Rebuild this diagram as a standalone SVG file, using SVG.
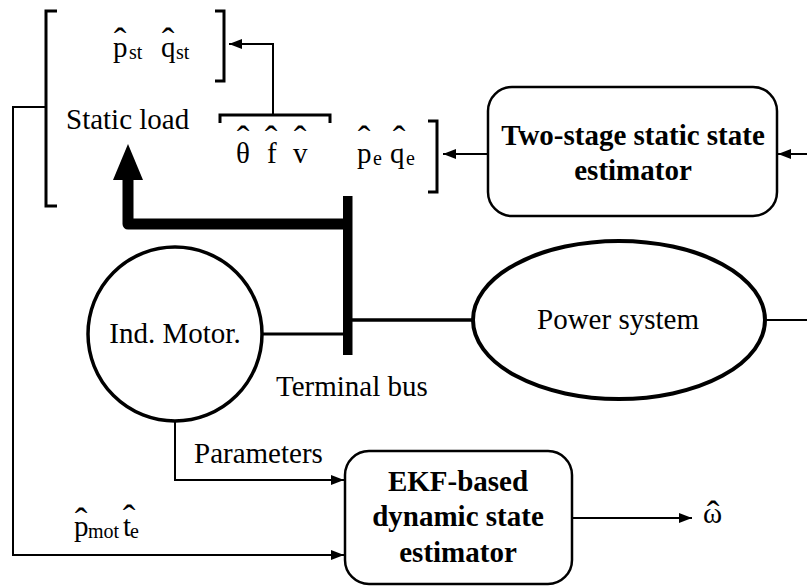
<svg xmlns="http://www.w3.org/2000/svg" width="807" height="586" viewBox="0 0 807 586">
<defs>
<marker id="ah" markerUnits="userSpaceOnUse" markerWidth="14" markerHeight="12" refX="13" refY="5" orient="auto">
<path d="M0,0 L13,5 L0,10 z" fill="#000"/>
</marker>
<style>
.t{font-family:"Liberation Serif","Times New Roman",serif;font-size:29px;fill:#000}
.b{font-family:"Liberation Serif","Times New Roman",serif;font-size:29px;font-weight:bold;fill:#000}
.s{font-size:20px}
.h{font-size:38px;text-anchor:middle}
.w{fill:none;stroke:#000;stroke-width:2}
.br{fill:none;stroke:#000;stroke-width:3}
.box{fill:#fff;stroke:#000;stroke-width:2.5}
</style>
</defs>
<rect width="807" height="586" fill="#fff"/>

<g id="connectors">
<path class="w" d="M46,107 H13 V555 H344" marker-end="url(#ah)"/>
<path class="w" d="M175,422 V480 H344" marker-end="url(#ah)"/>
<path class="w" d="M273,115 V44 H229" marker-end="url(#ah)"/>
<path class="w" d="M807,154 H778" marker-end="url(#ah)"/>
<path class="w" d="M488,154 H443" marker-end="url(#ah)"/>
<path class="w" d="M572,518 H692" marker-end="url(#ah)"/>
<path class="w" d="M765,320 H807"/>
<path fill="none" stroke="#000" stroke-width="3" d="M262,334 H344"/>
<path fill="none" stroke="#000" stroke-width="3.5" d="M352,320 H474"/>
<path fill="none" stroke="#000" stroke-width="11" stroke-linejoin="round" d="M347,224 H128 V176"/>
<path d="M113,180 L128,144 L143,180 z" fill="#000"/>
</g>

<g id="static-load">
<path class="br" d="M57,11 H46 V206 H57"/>
<path class="br" d="M215,11 H224 V81 H215"/>
<text class="t"><tspan x="113" y="57">p</tspan><tspan class="s" x="129" y="59">st</tspan><tspan class="h" x="120" y="54">ˆ</tspan><tspan x="161" y="57">q</tspan><tspan class="s" x="176" y="59">st</tspan><tspan class="h" x="168" y="54">ˆ</tspan></text>
<text class="t" x="66" y="129">Static load</text>
</g>

<g id="bus-measurements">
<path class="br" d="M220,123 V115 H330 V123"/>
<text class="t"><tspan x="236" y="163">θ</tspan><tspan class="h" x="243" y="152">ˆ</tspan><tspan x="267" y="163">f</tspan><tspan class="h" x="271" y="152">ˆ</tspan><tspan x="293" y="163">v</tspan><tspan class="h" x="300" y="152">ˆ</tspan></text>
</g>

<g id="estimated-power">
<path class="br" d="M428,121 H437 V192 H428"/>
<text class="t"><tspan x="357" y="163">p</tspan><tspan class="s" x="373" y="165">e</tspan><tspan class="h" x="364" y="152">ˆ</tspan><tspan x="390" y="163">q</tspan><tspan class="s" x="406" y="165">e</tspan><tspan class="h" x="399" y="152">ˆ</tspan></text>
</g>

<g id="two-stage-estimator">
<rect class="box" x="488" y="87" width="289" height="129" rx="24"/>
<text class="b" x="633" y="145" text-anchor="middle">Two-stage static state</text>
<text class="b" x="633" y="180" text-anchor="middle">estimator</text>
</g>

<g id="terminal-bus">
<rect x="343" y="196" width="9.5" height="159" fill="#000"/>
<text class="t" x="276" y="396">Terminal bus</text>
</g>

<g id="ind-motor">
<circle cx="175" cy="334" r="87" fill="#fff" stroke="#000" stroke-width="3.5"/>
<text class="t" x="175" y="343" text-anchor="middle">Ind. Motor.</text>
</g>

<g id="power-system">
<ellipse cx="619" cy="320" rx="146" ry="79" fill="#fff" stroke="#000" stroke-width="4"/>
<text class="t" x="618" y="329" text-anchor="middle">Power system</text>
</g>

<g id="parameters-label">
<text class="t" x="194" y="463">Parameters</text>
</g>

<g id="motor-measurements">
<text class="t"><tspan x="74" y="536">p</tspan><tspan class="s" x="88" y="538">mot</tspan><tspan class="h" x="81" y="534">ˆ</tspan><tspan x="123" y="536">t</tspan><tspan class="s" x="130" y="538">e</tspan><tspan class="h" x="129" y="531">ˆ</tspan></text>
</g>

<g id="ekf-estimator">
<rect class="box" x="345" y="451" width="227" height="133" rx="24"/>
<text class="b" x="458" y="491" text-anchor="middle">EKF-based</text>
<text class="b" x="458" y="526" text-anchor="middle">dynamic state</text>
<text class="b" x="458" y="562" text-anchor="middle">estimator</text>
</g>

<g id="omega-output">
<text class="t"><tspan x="703" y="523">ω</tspan><tspan class="h" x="713" y="527">ˆ</tspan></text>
</g>
</svg>
